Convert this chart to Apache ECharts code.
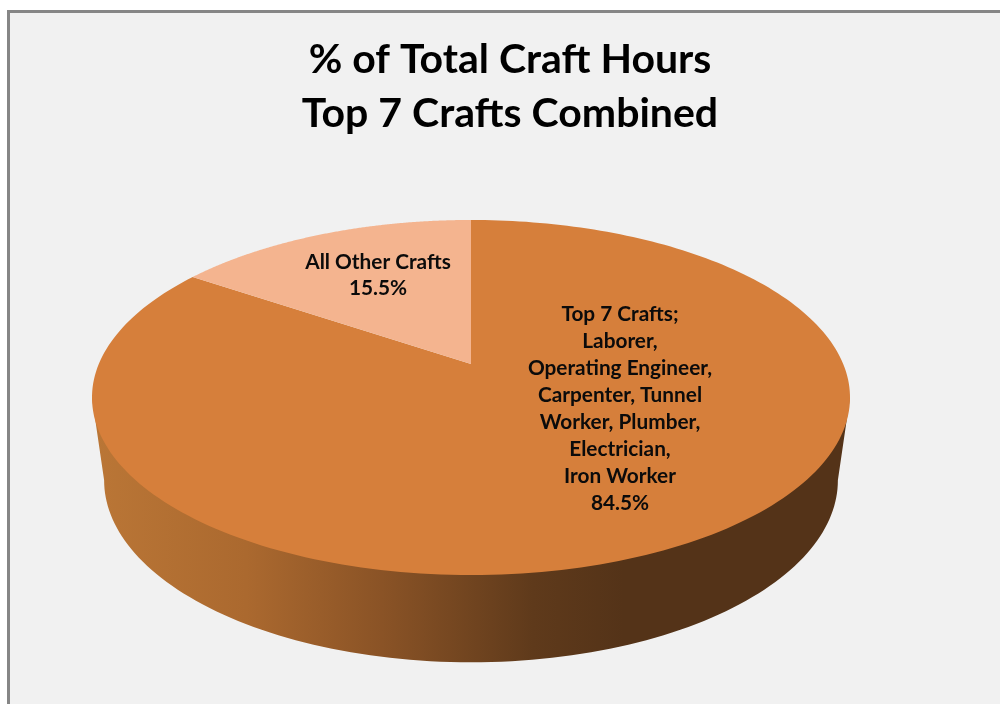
<!DOCTYPE html>
<html>
<head>
<meta charset="utf-8">
<style>html,body{margin:0;padding:0;background:#fff}#c{width:1000px;height:704px}</style>
<script src="https://cdn.jsdelivr.net/npm/echarts@6/dist/echarts.min.js"></script>
</head>
<body>
<div id="c"></div>
<script>
var titleLines = ['% of Total Craft Hours', 'Top 7 Crafts Combined'];
var categories = ['Top 7 Crafts;\nLaborer,\nOperating Engineer,\nCarpenter, Tunnel\nWorker, Plumber,\nElectrician,\nIron Worker', 'All Other Crafts'];
var values = [84.5, 15.5];
var sliceColors = ['#d67f3b', '#f4b48f'];
var labelCenters = [[620, 409], [378, 275]];

var total = values.reduce(function (a, b) { return a + b; }, 0);
var persp = 0.1887, halfW = 372.2, halfH = 171.2;
function rim(theta, g) {
  var u = Math.sin(theta), v = Math.cos(theta), k = 1 + persp * v;
  return [g.cx + g.sx * halfW * u / k, g.cy - g.sy * halfH * v / k];
}
var TOP = { sx: 1, sy: 1, cx: 471, cy: 364 };
var LOW = { sx: 0.968, sy: 1.025, cx: 471, cy: 446 };

function renderItem(params, api) {
  var i = params.dataIndex, before = 0;
  for (var j = 0; j < i; j++) before += values[j];
  var a0 = before / total * 2 * Math.PI;
  var a1 = (before + api.value(1)) / total * 2 * Math.PI;
  var children = [];
  if (i === 0) {
    var side = Math.acos(-persp);
    var wall = [rim(side, TOP)];
    for (var w = 0; w <= 120; w++) {
      var t = side + (2 * Math.PI - 2 * side) * w / 120;
      wall.push(rim(t, LOW));
    }
    wall.push(rim(2 * Math.PI - side, TOP));
    children.push({
      type: 'polygon',
      shape: { points: wall.reverse() },
      style: {
        fill: {
          type: 'linear', x: 95, y: 0, x2: 850, y2: 0, global: true,
          colorStops: [
            { offset: 0, color: '#ba7636' },
            { offset: 0.20, color: '#ab692f' },
            { offset: 0.38, color: '#8a5326' },
            { offset: 0.58, color: '#5f3a1b' },
            { offset: 0.70, color: '#543318' },
            { offset: 1, color: '#543318' }
          ]
        }
      }
    });
  }
  var pts = [[TOP.cx, TOP.cy]];
  for (var s = 0; s <= 240; s++) pts.push(rim(a0 + (a1 - a0) * s / 240, TOP));
  children.push({ type: 'polygon', shape: { points: pts }, style: { fill: sliceColors[i] } });
  children.push({
    type: 'text', z2: 10,
    style: {
      text: categories[i] + '\n' + api.value(1).toFixed(1) + '%',
      x: labelCenters[i][0], y: labelCenters[i][1],
      align: 'center', verticalAlign: 'middle',
      font: 'bold 20.8px Lato', lineHeight: i === 0 ? 27 : 26, fill: '#0b0b0b'
    }
  });
  return { type: 'group', children: children };
}

var chart = echarts.init(document.getElementById('c'), null, { renderer: 'canvas' });
chart.setOption({
  animation: false,
  backgroundColor: '#ffffff',
  title: {
    text: titleLines.join('\n'),
    left: 505, top: 28, textAlign: 'center',
    textStyle: { fontFamily: 'Lato', fontWeight: 'bold', fontSize: 41, lineHeight: 54, color: '#000' }
  },
  graphic: [{
    type: 'rect', z: -10,
    shape: { x: 8.5, y: 11.5, width: 1100, height: 800 },
    style: { fill: '#f1f1f1', stroke: '#868686', lineWidth: 3 }
  }],
  series: [{
    type: 'custom',
    coordinateSystem: 'none',
    renderItem: renderItem,
    data: values.map(function (v, i) { return [i, v]; })
  }]
});
</script>
</body>
</html>
